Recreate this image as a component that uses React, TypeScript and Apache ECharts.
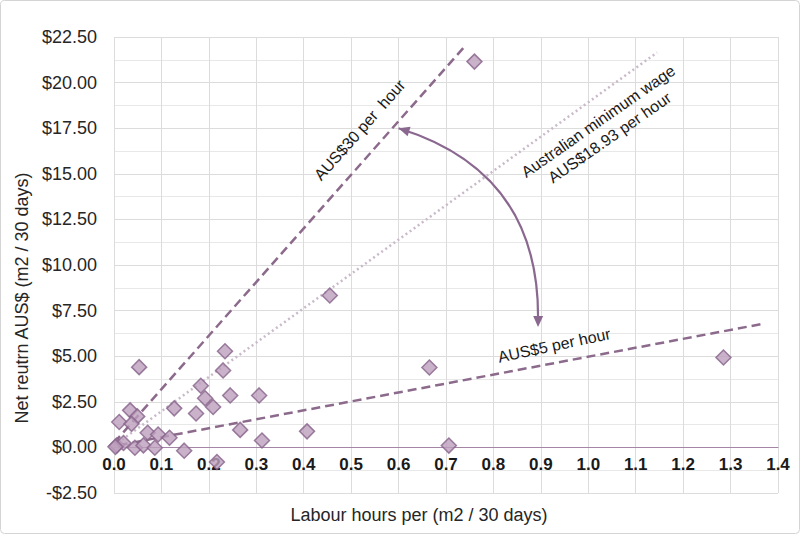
import React, { useEffect, useRef } from "react";
import * as echarts from "echarts";

// Scatter data: labour hours per m2 / 30 days vs net return AUS$
const labourHours = [
  0.76, 0.455, 0.665, 1.285, 0.706, 0.053, 0.234, 0.23, 0.183, 0.192, 0.245, 0.306,
  0.209, 0.173, 0.127, 0.266, 0.312, 0.407, 0.148, 0.217, 0.034, 0.049, 0.011, 0.037,
  0.071, 0.093, 0.117, 0.006, 0.02, 0.044, 0.062, 0.086, 0.003,
];
const netReturn = [
  21.15, 8.33, 4.38, 4.93, 0.1, 4.4, 5.27, 4.22, 3.38, 2.69, 2.85, 2.85,
  2.22, 1.86, 2.14, 0.96, 0.38, 0.88, -0.18, -0.8, 2.03, 1.7, 1.39, 1.29,
  0.8, 0.71, 0.53, 0.11, 0.24, -0.02, 0.11, -0.02, 0.03,
];

// Wage reference lines (start / end points in data units)
const wage30Line = [[0, 0.25], [0.74, 22.0]];
const minWageLine = [[0, 0.1], [1.145, 21.65]];
const wage5Line = [[0.01, 0.12], [1.373, 6.8]];

// Axis settings
const xMin = 0, xMax = 1.4, xStep = 0.1;
const yMin = -2.5, yMax = 22.5, yStep = 2.5;

// Annotation anchors (data units)
const arrowPts = {
  start: [0.6, 17.5],
  c1: [0.75, 16.3],
  c2: [0.898, 13.55],
  end: [0.894, 6.6],
};
const labels = [
  { text: "AUS$30 per  hour", at: [0.518, 17.4], angle: 48.5 },
  { text: "Australian minimum wage\nAUS$18.93 per hour", at: [1.033, 17.43], angle: 34.9 },
  { text: "AUS$5 per hour", at: [0.928, 5.59], angle: 12 },
];

const FONT = "'Liberation Sans', Arial, sans-serif";
const PURPLE = "#8c6a8c";

const GRID_TOP = 37;
const GRID_BOTTOM = 41;
const GRID_H = 534 - GRID_TOP - GRID_BOTTOM;

function arrowHead(tip: number[], from: number[], len = 11, half = 5) {
  const dx = tip[0] - from[0];
  const dy = tip[1] - from[1];
  const d = Math.sqrt(dx * dx + dy * dy) || 1;
  const ux = dx / d, uy = dy / d;
  const bx = tip[0] - ux * len, by = tip[1] - uy * len;
  return [
    [tip[0], tip[1]],
    [bx - uy * half, by + ux * half],
    [bx + uy * half, by - ux * half],
  ];
}

export default function App() {
  const ref = useRef<HTMLDivElement>(null);
  useEffect(() => {
    document.body.style.margin = "0";
    const chart = echarts.init(ref.current!, null, { renderer: "svg" });
    const scatterData = labourHours.map((x, i) => [x, netReturn[i]]);
    // distance from grid bottom to the zero line, so the x axis sits on y = 0
    const zeroOffset = (GRID_H * (0 - yMin)) / (yMax - yMin);
    chart.setOption({
      animation: false,
      backgroundColor: "#ffffff",
      grid: { left: 114, right: 22, top: GRID_TOP, bottom: GRID_BOTTOM, containLabel: false },
      xAxis: {
        type: "value",
        min: xMin,
        max: xMax,
        interval: xStep,
        position: "bottom",
        offset: -zeroOffset,
        axisLine: { show: true, onZero: false, lineStyle: { color: "#a585a5", width: 1 } },
        axisTick: { show: false },
        axisLabel: {
          formatter: (v: number) => v.toFixed(1),
          fontFamily: FONT,
          fontSize: 17,
          fontWeight: "bold",
          color: "#1a1a1a",
          margin: 9,
        },
        splitLine: { show: true, lineStyle: { color: "#dcdcdc", width: 1 } },
      },
      yAxis: {
        type: "value",
        min: yMin,
        max: yMax,
        interval: yStep,
        axisLine: { show: false },
        axisTick: { show: false },
        axisLabel: {
          formatter: (v: number) => (v < 0 ? "-$" + Math.abs(v).toFixed(2) : "$" + v.toFixed(2)),
          fontFamily: FONT,
          fontSize: 18,
          color: "#262626",
          margin: 17,
        },
        splitLine: { show: true, lineStyle: { color: "#dcdcdc", width: 1 } },
        minorTick: { show: false, splitNumber: 2 },
        minorSplitLine: { show: true, lineStyle: { color: "#e8e8e8", width: 1 } },
      },
      series: [
        {
          type: "line",
          data: minWageLine,
          symbol: "none",
          z: 2,
          lineStyle: { color: "#c9b9c9", width: 2.5, type: [2, 3] },
        },
        {
          type: "line",
          data: wage30Line,
          symbol: "none",
          z: 2,
          lineStyle: { color: PURPLE, width: 2.5, type: [9, 5] },
        },
        {
          type: "line",
          data: wage5Line,
          symbol: "none",
          z: 2,
          lineStyle: { color: PURPLE, width: 2.5, type: [9, 5] },
        },
        {
          type: "scatter",
          data: scatterData,
          symbol: "diamond",
          symbolSize: 15,
          z: 3,
          itemStyle: { color: "#bd9fbd", borderColor: "#86628a", borderWidth: 1.5 },
        },
        {
          type: "custom",
          coordinateSystem: "cartesian2d",
          data: [[0, 0]],
          z: 4,
          silent: true,
          clip: false,
          renderItem: (params: any, api: any) => {
            const p0 = api.coord(arrowPts.start);
            const c1 = api.coord(arrowPts.c1);
            const c2 = api.coord(arrowPts.c2);
            const p3 = api.coord(arrowPts.end);
            const children: any[] = [
              {
                type: "bezierCurve",
                shape: { x1: p0[0], y1: p0[1], cpx1: c1[0], cpy1: c1[1], cpx2: c2[0], cpy2: c2[1], x2: p3[0], y2: p3[1] - 6 },
                style: { stroke: "#8a6890", lineWidth: 2.2, fill: null },
              },
              {
                type: "polygon",
                shape: { points: arrowHead(p0, c1) },
                style: { fill: "#8a6890" },
              },
              {
                type: "polygon",
                shape: { points: arrowHead(p3, c2) },
                style: { fill: "#8a6890" },
              },
            ];
            labels.forEach((l) => {
              const p = api.coord(l.at);
              children.push({
                type: "text",
                x: p[0],
                y: p[1],
                rotation: (l.angle * Math.PI) / 180,
                style: {
                  text: l.text,
                  x: 0,
                  y: 0,
                  align: "center",
                  verticalAlign: "middle",
                  fontFamily: FONT,
                  fontSize: 16,
                  lineHeight: 20,
                  fill: "#1a1a1a",
                },
              });
            });
            return { type: "group", children };
          },
        },
      ],
      graphic: [
        {
          type: "rect",
          shape: { x: 0.5, y: 0.5, width: 799, height: 533, r: 4 },
          style: { fill: "none", stroke: "#d4d4d4", lineWidth: 1 },
          silent: true,
          z: -1,
        },
        {
          type: "text",
          x: 22,
          y: 298,
          rotation: Math.PI / 2,
          style: {
            text: "Net reutrn AUS$ (m2 / 30 days)",
            align: "center",
            verticalAlign: "middle",
            fontFamily: FONT,
            fontSize: 18,
            fill: "#262626",
          },
        },
        {
          type: "text",
          x: 419,
          y: 515,
          style: {
            text: "Labour hours per (m2 / 30 days)",
            align: "center",
            verticalAlign: "middle",
            fontFamily: FONT,
            fontSize: 18,
            fill: "#262626",
          },
        },
      ],
    });
    return () => chart.dispose();
  }, []);
  return <div ref={ref} style={{ position: "absolute", left: 0, top: 0, width: 800, height: 534 }} />;
}
